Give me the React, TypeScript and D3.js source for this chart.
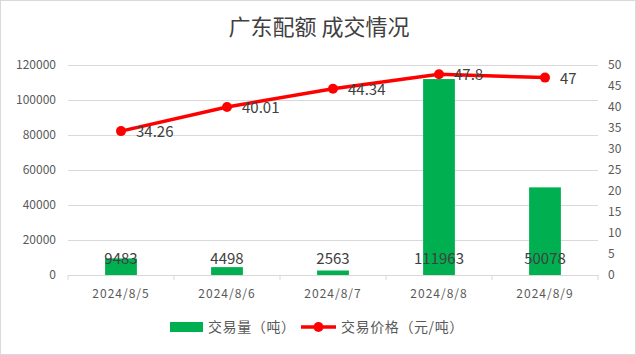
import { useEffect, useRef } from 'react'
import * as d3 from 'd3'

const dates = ['2024/8/5', '2024/8/6', '2024/8/7', '2024/8/8', '2024/8/9']
const volumes = [9483, 4498, 2563, 111963, 50078]
const prices = [34.26, 40.01, 44.34, 47.8, 47]
const leftTicks = [0, 20000, 40000, 60000, 80000, 100000, 120000]
const rightTicks = [0, 5, 10, 15, 20, 25, 30, 35, 40, 45, 50]

const W = 636
const H = 355
const FONT = '"Microsoft YaHei", "Noto Sans CJK SC", "Liberation Sans", sans-serif'

export default function App() {
  const svgRef = useRef<SVGSVGElement>(null)

  useEffect(() => {
    const svg = svgRef.current
    if (!svg) return
    const sel = d3.select(svg)
    sel.selectAll('*').remove()

    const margin = { top: 65, right: 38, bottom: 80, left: 68 }
    const iw = W - margin.left - margin.right
    const ih = H - margin.top - margin.bottom

    // 배경 + 테두리
    sel.append('rect').attr('x', 0.5).attr('y', 0.5).attr('width', W - 1).attr('height', H - 1)
      .attr('fill', '#fff').attr('stroke', '#d9d9d9')

    sel.append('text')
      .attr('x', W / 2 + 1).attr('y', 35).attr('text-anchor', 'middle')
      .attr('font-size', 22).attr('fill', '#404040')
      .attr('font-family', '"Noto Sans CJK SC", sans-serif')
      .text('广东配额 成交情况')

    const g = sel.append('g').attr('transform', `translate(${margin.left},${margin.top})`)

    const x = d3.scaleBand().domain(dates).range([0, iw])
    const yL = d3.scaleLinear().domain([0, 120000]).range([ih, 0])
    const yR = d3.scaleLinear().domain([0, 50]).range([ih, 0])

    // 그리드
    g.append('g')
      .call(d3.axisLeft(yL).tickValues(leftTicks).tickSize(-iw).tickFormat(() => ''))
      .call(ag => {
        ag.select('.domain').remove()
        ag.selectAll('line').attr('stroke', '#d9d9d9')
      })

    // x축
    g.append('g')
      .attr('transform', `translate(0,${ih})`)
      .call(d3.axisBottom(x).tickSize(0).tickPadding(14))
      .call(ag => {
        ag.select('.domain').attr('stroke', '#d9d9d9')
        ag.selectAll('text').attr('fill', '#595959').attr('font-size', 12)
          .attr('font-family', FONT).attr('letter-spacing', 1)
      })
    const edges = [...dates.map(d => x(d) as number), iw]
    g.append('g').selectAll('line').data(edges).join('line')
      .attr('x1', d => d).attr('x2', d => d).attr('y1', ih).attr('y2', ih + 5)
      .attr('stroke', '#d9d9d9')

    // 왼쪽 축
    g.append('g')
      .call(d3.axisLeft(yL).tickValues(leftTicks).tickSize(0).tickPadding(12).tickFormat(d => `${d}`))
      .call(ag => {
        ag.select('.domain').remove()
        ag.selectAll('text').attr('fill', '#595959').attr('font-size', 12).attr('font-family', FONT)
      })

    // 오른쪽 축
    g.append('g')
      .attr('transform', `translate(${iw},0)`)
      .call(d3.axisRight(yR).tickValues(rightTicks).tickSize(0).tickPadding(10).tickFormat(d => `${d}`))
      .call(ag => {
        ag.select('.domain').remove()
        ag.selectAll('text').attr('fill', '#595959').attr('font-size', 12).attr('font-family', FONT)
      })

    // 막대
    const bw = x.bandwidth() * 0.3
    g.append('g').selectAll('rect').data(volumes).join('rect')
      .attr('x', (_, i) => (x(dates[i]) as number) + x.bandwidth() / 2 - bw / 2)
      .attr('y', d => yL(d))
      .attr('width', bw)
      .attr('height', d => ih - yL(d))
      .attr('fill', '#00b050')

    g.append('g').selectAll('text').data(volumes).join('text')
      .attr('x', (_, i) => (x(dates[i]) as number) + x.bandwidth() / 2)
      .attr('y', ih - 11)
      .attr('text-anchor', 'middle')
      .attr('fill', '#404040').attr('font-size', 15).attr('font-family', FONT)
      .text(d => `${d}`)

    // 가격 선
    const cx = (i: number) => (x(dates[i]) as number) + x.bandwidth() / 2
    const line = d3.line<number>().x((_, i) => cx(i)).y(d => yR(d))
    g.append('path').datum(prices)
      .attr('fill', 'none').attr('stroke', '#ff0000').attr('stroke-width', 3.5)
      .attr('stroke-linejoin', 'round').attr('d', line)
    g.append('g').selectAll('circle').data(prices).join('circle')
      .attr('cx', (_, i) => cx(i)).attr('cy', d => yR(d)).attr('r', 5)
      .attr('fill', '#ff0000')
    g.append('g').selectAll('text').data(prices).join('text')
      .attr('x', (_, i) => cx(i) + 15).attr('y', d => yR(d) + 6)
      .attr('fill', '#404040').attr('font-size', 15).attr('font-family', FONT)
      .text(d => `${d}`)

    // 범례
    const lg = sel.append('g').attr('transform', 'translate(0,327)')
    lg.append('rect').attr('x', 170).attr('y', -5).attr('width', 33).attr('height', 10).attr('fill', '#00b050')
    lg.append('text').attr('x', 208).attr('y', 5).attr('fill', '#595959').attr('font-size', 14)
      .attr('letter-spacing', 0.6).attr('font-family', FONT).text('交易量（吨）')
    lg.append('line').attr('x1', 301).attr('x2', 336).attr('y1', 0).attr('y2', 0)
      .attr('stroke', '#ff0000').attr('stroke-width', 3.5)
    lg.append('circle').attr('cx', 318.5).attr('cy', 0).attr('r', 5).attr('fill', '#ff0000')
    lg.append('text').attr('x', 341).attr('y', 5).attr('fill', '#595959').attr('font-size', 14)
      .attr('letter-spacing', 0.6).attr('font-family', FONT).text('交易价格（元/吨）')
  }, [])

  return (
    <svg
      ref={svgRef}
      width={W}
      height={H}
      style={{ position: 'absolute', left: 0, top: 0, display: 'block' }}
    />
  )
}
